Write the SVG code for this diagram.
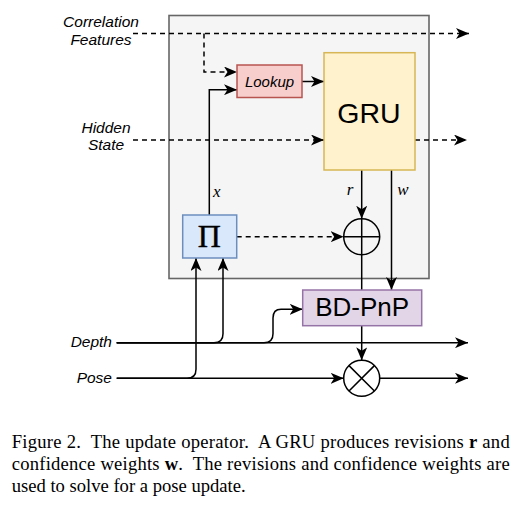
<svg xmlns="http://www.w3.org/2000/svg" width="521" height="505" viewBox="0 0 521 505">
<style>
.ln{fill:none;stroke:#000;stroke-width:1.5}
.ds{stroke-dasharray:5 4}
.lbl{font-family:"Liberation Sans",Arial,sans-serif;font-style:italic;font-size:15.5px;fill:#000}
.big{font-family:"Liberation Sans",Arial,sans-serif;fill:#000;text-anchor:middle}
.math{font-family:"Liberation Serif","Times New Roman",serif;font-style:italic;font-size:17px;fill:#000;text-anchor:middle}
.cap{font-family:"Liberation Serif","Times New Roman",serif;font-size:18.6px;fill:#000;white-space:pre}
</style>
<defs>
<marker id="ah" viewBox="0 0 13 11" refX="13" refY="5.5" markerWidth="13" markerHeight="11" markerUnits="userSpaceOnUse" orient="auto">
<path d="M0,0 L13,5.5 L0,11 L3.5,5.5 Z" fill="#000"/>
</marker>
</defs>
<rect id="operator" x="169" y="15.5" width="260" height="263" fill="#f5f5f5" stroke="#666" stroke-width="1.6"/>
<g id="inputs-labels">
<text class="lbl" x="101" y="26.5" text-anchor="middle">Correlation</text>
<text class="lbl" x="101" y="44.5" text-anchor="middle">Features</text>
<text class="lbl" x="106" y="132.5" text-anchor="middle">Hidden</text>
<text class="lbl" x="106" y="150" text-anchor="middle">State</text>
<text class="lbl" x="112" y="347" text-anchor="end">Depth</text>
<text class="lbl" x="112" y="383" text-anchor="end">Pose</text>
</g>
<g id="connectors">
<line class="ln ds" x1="133" y1="33.5" x2="469" y2="33.5" marker-end="url(#ah)"/>
<polyline class="ln ds" points="204,33.5 204,72 237,72" marker-end="url(#ah)"/>
<polyline class="ln" points="209.3,215 209.3,89.7 237,89.7" marker-end="url(#ah)"/>
<line class="ln" x1="302" y1="81.5" x2="324" y2="81.5" marker-end="url(#ah)"/>
<line class="ln ds" x1="133" y1="140" x2="324" y2="140" marker-end="url(#ah)"/>
<line class="ln ds" x1="415" y1="140" x2="467" y2="140" marker-end="url(#ah)"/>
<line class="ln" x1="361.7" y1="170" x2="361.7" y2="218.7" marker-end="url(#ah)"/>
<line class="ln" x1="391.5" y1="170" x2="391.5" y2="290" marker-end="url(#ah)"/>
<line class="ln" x1="361.7" y1="254.7" x2="361.7" y2="290"/>
<line class="ln ds" x1="236.7" y1="236.7" x2="343.7" y2="236.7" marker-end="url(#ah)"/>
<line class="ln" x1="361.7" y1="325.7" x2="361.7" y2="360.3" marker-end="url(#ah)"/>
<line class="ln" x1="116.7" y1="342.7" x2="468" y2="342.7" marker-end="url(#ah)"/>
<line class="ln" x1="116.7" y1="378.3" x2="343.7" y2="378.3" marker-end="url(#ah)"/>
<line class="ln" x1="379.7" y1="378.3" x2="468" y2="378.3" marker-end="url(#ah)"/>
<path class="ln" d="M116.7,378.3 H187 Q196,378.3 196,369.3 V258" marker-end="url(#ah)"/>
<path class="ln" d="M116.7,342.7 H214 Q223,342.7 223,333.7 V258" marker-end="url(#ah)"/>
<path class="ln" d="M116.7,342.7 H264 Q273,342.7 273,333.7 V318 Q273,309.3 281,309.3 H302.7" marker-end="url(#ah)"/>
</g>
<g id="lookup">
<rect x="237" y="65" width="65" height="32.5" fill="#f8cecc" stroke="#b85450" stroke-width="1.5"/>
<text class="big" x="269.5" y="86.5" font-size="15" font-style="italic">Lookup</text>
</g>
<g id="gru">
<rect x="324" y="52.7" width="91" height="117.3" fill="#fff2cc" stroke="#d6b656" stroke-width="1.5"/>
<text class="big" x="369" y="123" font-size="28.5">GRU</text>
</g>
<g id="pi">
<rect x="182.7" y="215" width="54" height="43" fill="#dae8fc" stroke="#6c8ebf" stroke-width="1.5"/>
<text x="209.3" y="246.5" font-family="'Liberation Serif','Times New Roman',serif" font-size="32" text-anchor="middle" stroke="#000" stroke-width="0.4">Π</text>
</g>
<g id="labels-xrw">
<text class="math" x="216.7" y="197">x</text>
<text class="math" x="350" y="195">r</text>
<text class="math" x="403" y="195">w</text>
</g>
<g id="plus">
<circle cx="361.7" cy="236.7" r="18" fill="none" stroke="#000" stroke-width="1.5"/>
<path class="ln" d="M343.7,236.7 H379.7 M361.7,218.7 V254.7"/>
</g>
<g id="bdpnp">
<rect x="302.7" y="290" width="119" height="35.7" fill="#e1d5e7" stroke="#9673a6" stroke-width="1.5"/>
<text class="big" x="362.2" y="316" font-size="26">BD-PnP</text>
</g>
<g id="times">
<circle cx="361.7" cy="378.3" r="18" fill="none" stroke="#000" stroke-width="1.5"/>
<path class="ln" d="M349,365.6 L374.4,391 M374.4,365.6 L349,391"/>
</g>
<g id="caption">
<text class="cap" x="11.7" y="448.3" textLength="498" lengthAdjust="spacing">Figure 2.  The update operator.  A GRU produces revisions <tspan font-weight="bold">r</tspan> and</text>
<text class="cap" x="11.7" y="470" textLength="498" lengthAdjust="spacing">confidence weights <tspan font-weight="bold">w</tspan>.  The revisions and confidence weights are</text>
<text class="cap" x="11.7" y="491.7">used to solve for a pose update.</text>
</g>
</svg>
